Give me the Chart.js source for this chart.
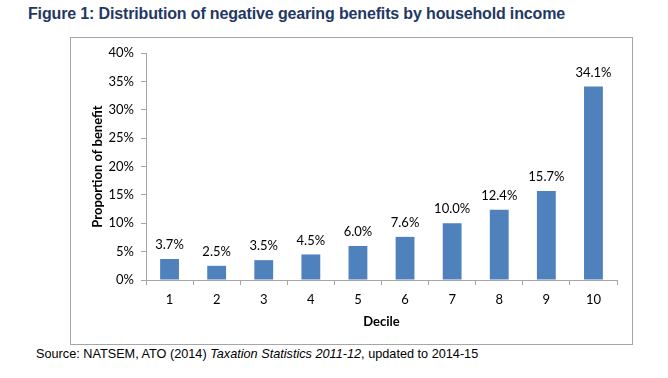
<!DOCTYPE html>
<html>
<head>
<meta charset="utf-8">
<script src="https://cdn.jsdelivr.net/npm/chart.js@4/dist/chart.umd.min.js"></script>
<style>
    html, body { margin: 0; padding: 0; background: #fff; }
    body { width: 668px; height: 378px; position: relative; overflow: hidden; }
    #title {
        position: absolute; left: 28px; top: 5px;
        font: bold 16px "Liberation Sans", Arial, sans-serif;
        letter-spacing: -0.15px;
        color: #1f3864; white-space: nowrap;
    }
    #box {
        position: absolute; left: 70px; top: 37px; width: 561px; height: 306px;
        border: 1px solid #a6a6a6;
    }
    #source {
        position: absolute; left: 36px; top: 347px;
        font: 12.7px "Liberation Sans", Arial, sans-serif;
        color: #000; white-space: nowrap;
    }
</style>
</head>
<body>
<div id="title">Figure 1: Distribution of negative gearing benefits by household income</div>
<div id="box"><canvas id="chart" width="561" height="306"></canvas></div>
<div id="source">Source: NATSEM, ATO (2014) <i>Taxation Statistics 2011-12</i>, updated to 2014-15</div>

<script>
// Chart data
const deciles = ['1', '2', '3', '4', '5', '6', '7', '8', '9', '10'];
const shares = [3.7, 2.5, 3.5, 4.5, 6.0, 7.6, 10.0, 12.4, 15.7, 34.1];
const yTicks = [0, 5, 10, 15, 20, 25, 30, 35, 40];

(function() {
    'use strict';

    const labelFont = '"Lato", "Open Sans", sans-serif';
    const axisGrey = '#a6a6a6';

    // Value labels above each bar
    const barLabels = {
        id: 'barLabels',
        afterDatasetsDraw(chart) {
            const ctx = chart.ctx;
            const meta = chart.getDatasetMeta(0);
            ctx.save();
            ctx.font = '13px ' + labelFont;
            ctx.fillStyle = '#000';
            ctx.textAlign = 'center';
            ctx.textBaseline = 'middle';
            meta.data.forEach((bar, i) => {
                ctx.fillText(shares[i].toFixed(1) + '%', bar.x, bar.y - 14);
            });
            ctx.restore();
        }
    };

    new Chart(document.getElementById('chart').getContext('2d'), {
        type: 'bar',
        data: {
            labels: deciles,
            datasets: [{
                data: shares,
                backgroundColor: '#4f81bd',
                borderWidth: 0,
                categoryPercentage: 1,
                barPercentage: 0.4
            }]
        },
        options: {
            responsive: false,
            animation: false,
            layout: { padding: { top: 15, right: 15, left: 0, bottom: 0 } },
            plugins: { legend: { display: false }, tooltip: { enabled: false } },
            scales: {
                x: {
                    grid: { drawOnChartArea: false, tickLength: 5, color: axisGrey, offset: true },
                    border: { color: axisGrey },
                    ticks: { font: { family: labelFont, size: 13 }, color: '#000', padding: 7, maxRotation: 0 },
                    title: { display: true, text: 'Decile', font: { family: labelFont, size: 13, weight: 'bold' }, color: '#000', padding: { top: 2, bottom: 14 } },
                    afterFit(scale) { scale.height = 64; }
                },
                y: {
                    min: 0,
                    max: 40,
                    afterBuildTicks(scale) { scale.ticks = yTicks.map(v => ({ value: v })); },
                    grid: { drawOnChartArea: false, tickLength: 5, color: axisGrey },
                    border: { color: axisGrey },
                    ticks: {
                        font: { family: labelFont, size: 13 }, color: '#000', padding: 7,
                        callback: v => v + '%'
                    },
                    title: { display: true, text: 'Proportion of benefit', font: { family: labelFont, size: 13, weight: 'bold' }, color: '#000', padding: { top: 19, bottom: 0 } },
                    afterFit(scale) { scale.width = 75; }
                }
            }
        },
        plugins: [barLabels]
    });
})();
</script>
</body>
</html>
